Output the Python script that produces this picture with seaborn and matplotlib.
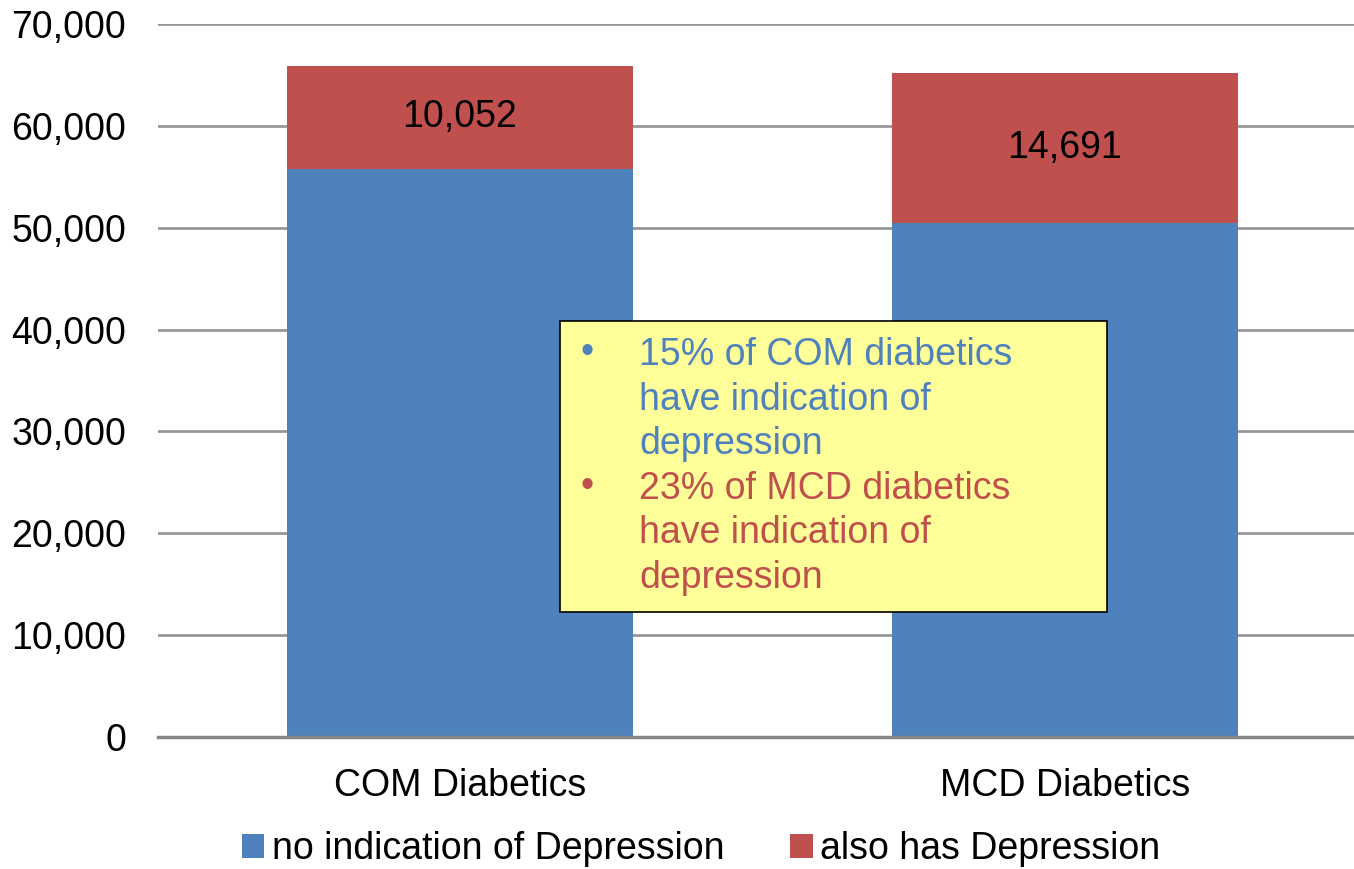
import matplotlib
matplotlib.use("Agg")
import matplotlib.pyplot as plt
from matplotlib.patches import Patch, Rectangle
from matplotlib.ticker import FuncFormatter
import pandas as pd
import seaborn as sns

categories = ["COM Diabetics", "MCD Diabetics"]
no_depression = [55800, 50500]
has_depression = [10052, 14691]
series_names = ["no indication of Depression", "also has Depression"]
note_lines = [
    ["15% of COM diabetics", "have indication of", "depression"],
    ["23% of MCD diabetics", "have indication of", "depression"],
]

BLUE = "#4F81BD"
RED = "#C0504D"

sns.set_theme(style="white")
plt.rcParams["font.family"] = ["Liberation Sans", "DejaVu Sans"]
FS = 27

df = pd.DataFrame({
    "category": categories,
    "blue": no_depression,
    "red": has_depression,
})
df["total"] = df["blue"] + df["red"]

W, H = 1354, 869
fig = plt.figure(figsize=(W / 100, H / 100), dpi=100)
ax = fig.add_axes([158 / W, 132 / H, (W - 158) / W, 713 / H])

# stacked: totals in red, blue drawn over the bottom part
sns.barplot(data=df, x="category", y="total", color=RED, width=0.572,
            saturation=1, linewidth=0, ax=ax, zorder=2)
sns.barplot(data=df, x="category", y="blue", color=BLUE, width=0.572,
            saturation=1, linewidth=0, ax=ax, zorder=3)

for i, row in df.iterrows():
    ax.text(i, row["blue"] + row["red"] / 2, f"{row['red']:,}",
            ha="center", va="center", fontsize=FS, color="black", zorder=4)

ax.set_xlim(-0.499, 1.478)
ax.set_ylim(0, 70000)
ax.set_yticks(range(0, 70001, 10000))
ax.yaxis.set_major_formatter(FuncFormatter(lambda v, p: f"{int(v):,}"))
ax.yaxis.grid(True, color="#989898", linewidth=2)
ax.set_axisbelow(True)
for s in ["top", "right", "left"]:
    ax.spines[s].set_visible(False)
ax.spines["bottom"].set_color("#868686")
ax.spines["bottom"].set_linewidth(2.5)
ax.spines["bottom"].set_zorder(5)
ax.tick_params(axis="y", length=0, pad=23, labelsize=FS, labelcolor="black")
ax.tick_params(axis="x", length=0, pad=22, labelsize=FS, labelcolor="black")
ax.set_xlabel("")
ax.set_ylabel("")

# yellow note box
fig.patches.append(Rectangle((560 / W, 1 - 612 / H), 547 / W, 291 / H,
                             transform=fig.transFigure, facecolor="#FFFF99",
                             edgecolor="black", linewidth=1.2, zorder=10))
y0 = 355
for lines, col in zip(note_lines, [BLUE, RED]):
    fig.text(580 / W, 1 - (y0 - 2) / H, "\u2022", color=col, fontsize=FS,
             ha="left", va="center", zorder=11)
    for ln in lines:
        fig.text(639 / W, 1 - y0 / H, ln, color=col, fontsize=FS,
                 ha="left", va="center", zorder=11)
        y0 += 44.6

handles = [Patch(facecolor=BLUE, edgecolor="none"),
           Patch(facecolor=RED, edgecolor="none")]
fig.legend(handles, series_names, loc="center", bbox_to_anchor=(701 / W, 1 - 849 / H),
           ncol=2, frameon=False, fontsize=FS, labelcolor="black",
           handlelength=0.6, handleheight=0.6, handletextpad=0.2,
           columnspacing=1.75, borderpad=0)

fig.savefig("out.png", dpi=100)
